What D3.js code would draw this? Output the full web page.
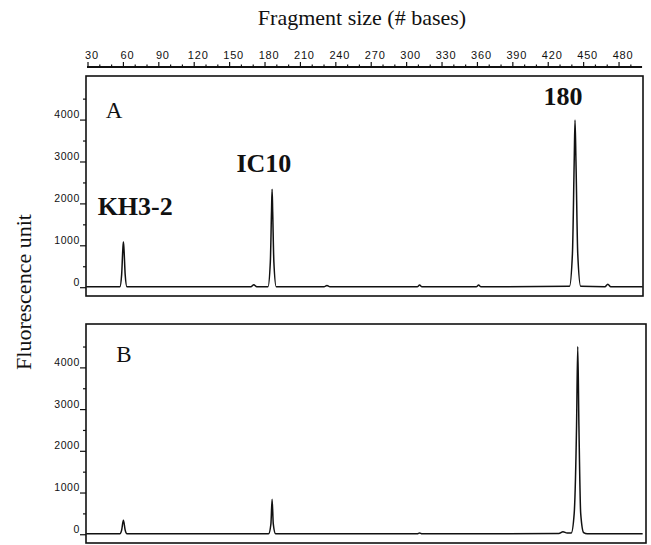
<!DOCTYPE html>
<html>
<head>
<meta charset="utf-8">
<script src="https://cdn.jsdelivr.net/npm/d3@7"></script>
<style>
  body { margin: 0; background: #fff; }
  svg { display: block; }
  .tick text { font-family: "Liberation Sans", Arial, sans-serif; font-size: 10.5px; letter-spacing: 0.6px; fill: #111; }
  .serif { font-family: "Liberation Serif", "Times New Roman", serif; fill: #111; }
</style>
</head>
<body>
<div id="chart"></div>
<script>
// fragment-size ruler along the top
const rulerMajor = d3.range(30, 481, 30);
const rulerMinor = d3.range(30, 491, 10);

// fluorescence ticks
const yTicks = d3.range(0, 4501, 500);

// panel A trace (size in bases, fluorescence)
const sizeA = [28.5, 57, 58.5, 59.5, 60, 60.5, 61.5, 63, 168, 170.5, 173, 182.5, 184.5, 185.5, 186, 186.5, 187.5, 189.5,
    230, 232.5, 235, 309, 311, 313, 359, 361, 363, 438, 440.5, 442, 442.7, 443.5, 445, 447.5, 468, 470.5, 473, 500];
const signalA = [10, 10, 300, 900, 1080, 900, 300, 10, 10, 60, 10, 10, 600, 1800, 2340, 1800, 600, 10,
    10, 40, 10, 10, 50, 10, 10, 50, 10, 20, 800, 3000, 3990, 3000, 800, 20, 10, 70, 10, 10];

// panel B trace
const sizeB = [28.5, 57, 58.5, 60, 61.5, 63, 183, 185, 186, 187, 189, 309, 311, 313, 429, 432.5, 436, 439.5,
    442, 444, 445, 446, 447.5, 450, 453, 500];
const signalB = [10, 10, 100, 335, 100, 10, 10, 250, 840, 250, 10, 10, 30, 10, 15, 60, 30, 30,
    500, 2600, 4500, 2600, 500, 40, 10, 10];

// peak labels (panel A)
const peakNames = ["KH3-2", "IC10", "180"];
const peakSizes = [70, 179, 432.6];
const peakLevels = [1720, 2745, 4345];

const width = 651, height = 545;

const svg = d3.select("#chart").append("svg")
    .attr("width", width)
    .attr("height", height);

const x = d3.scaleLinear().domain([28.3, 500.3]).range([86, 643]);

const panels = [
    {name: "A", top: 76, bottom: 296, right: 643, sizes: sizeA, values: signalA, letter: [45, 4040]},
    {name: "B", top: 324, bottom: 543, right: 646, sizes: sizeB, values: signalB, letter: [54, 4130]}
];

// top ruler
const ruler = svg.append("g").attr("transform", "translate(0,67)");
ruler.append("line")
    .attr("x1", x(30) - 1).attr("x2", x(499.5))
    .attr("stroke", "#111").attr("stroke-width", 2);
ruler.selectAll(".minor")
    .data(rulerMinor)
    .enter().append("line")
    .attr("class", "minor")
    .attr("x1", d => x(d)).attr("x2", d => x(d))
    .attr("y1", 0)
    .attr("y2", d => (d % 30 === 0) ? -5 : -2.5)
    .attr("stroke", "#111").attr("stroke-width", 1.2);
ruler.selectAll(".lab")
    .data(rulerMajor)
    .enter().append("text")
    .attr("class", "lab")
    .attr("x", d => x(d) + 4)
    .attr("y", -8)
    .attr("text-anchor", "middle")
    .style("font-family", "'Liberation Sans', Arial, sans-serif")
    .style("font-size", "11px")
    .style("letter-spacing", "0.8px")
    .attr("fill", "#111")
    .text(d => d);

svg.append("text")
    .attr("class", "serif")
    .attr("x", 362)
    .attr("y", 25)
    .attr("text-anchor", "middle")
    .style("font-size", "22px")
    .text("Fragment size (# bases)");

svg.append("text")
    .attr("class", "serif")
    .attr("transform", "translate(31,292) rotate(-90)")
    .attr("text-anchor", "middle")
    .style("font-size", "22px")
    .text("Fluorescence unit");

panels.forEach(function (p) {
    const y = d3.scaleLinear().domain([-210, 5040]).range([p.bottom, p.top]);
    const g = svg.append("g");

    g.append("rect")
        .attr("x", x.range()[0])
        .attr("y", p.top)
        .attr("width", p.right - x.range()[0])
        .attr("height", p.bottom - p.top)
        .attr("fill", "none")
        .attr("stroke", "#111")
        .attr("stroke-width", 1.6);

    const axis = d3.axisLeft(y)
        .tickValues(yTicks)
        .tickSize(6)
        .tickPadding(0)
        .tickFormat(d => d % 1000 === 0 ? d : "");

    const ax = g.append("g")
        .attr("transform", "translate(" + x.range()[0] + ",0)")
        .call(axis);
    ax.select(".domain").remove();
    ax.selectAll(".tick line")
        .attr("x2", d => d % 1000 === 0 ? -6 : -3)
        .attr("stroke", "#111")
        .attr("stroke-width", 1.2);
    ax.selectAll(".tick text")
        .attr("x", -6)
        .attr("dy", "-0.2em");

    const line = d3.line()
        .x((d, i) => x(p.sizes[i]))
        .y(d => y(d))
        .curve(d3.curveMonotoneX);

    g.append("path")
        .datum(p.values)
        .attr("d", line)
        .attr("fill", "none")
        .attr("stroke", "#111")
        .attr("stroke-width", 1.5);

    g.append("text")
        .attr("class", "serif")
        .attr("x", x(p.letter[0]))
        .attr("y", y(p.letter[1]))
        .style("font-size", "23px")
        .text(p.name);

    if (p.name === "A") {
        g.selectAll(".peak")
            .data(peakNames)
            .enter().append("text")
            .attr("class", "serif peak")
            .attr("x", (d, i) => x(peakSizes[i]))
            .attr("y", (d, i) => y(peakLevels[i]))
            .attr("text-anchor", "middle")
            .style("font-size", "26px")
            .style("font-weight", "bold")
            .text(d => d);
    }
});
</script>
</body>
</html>
